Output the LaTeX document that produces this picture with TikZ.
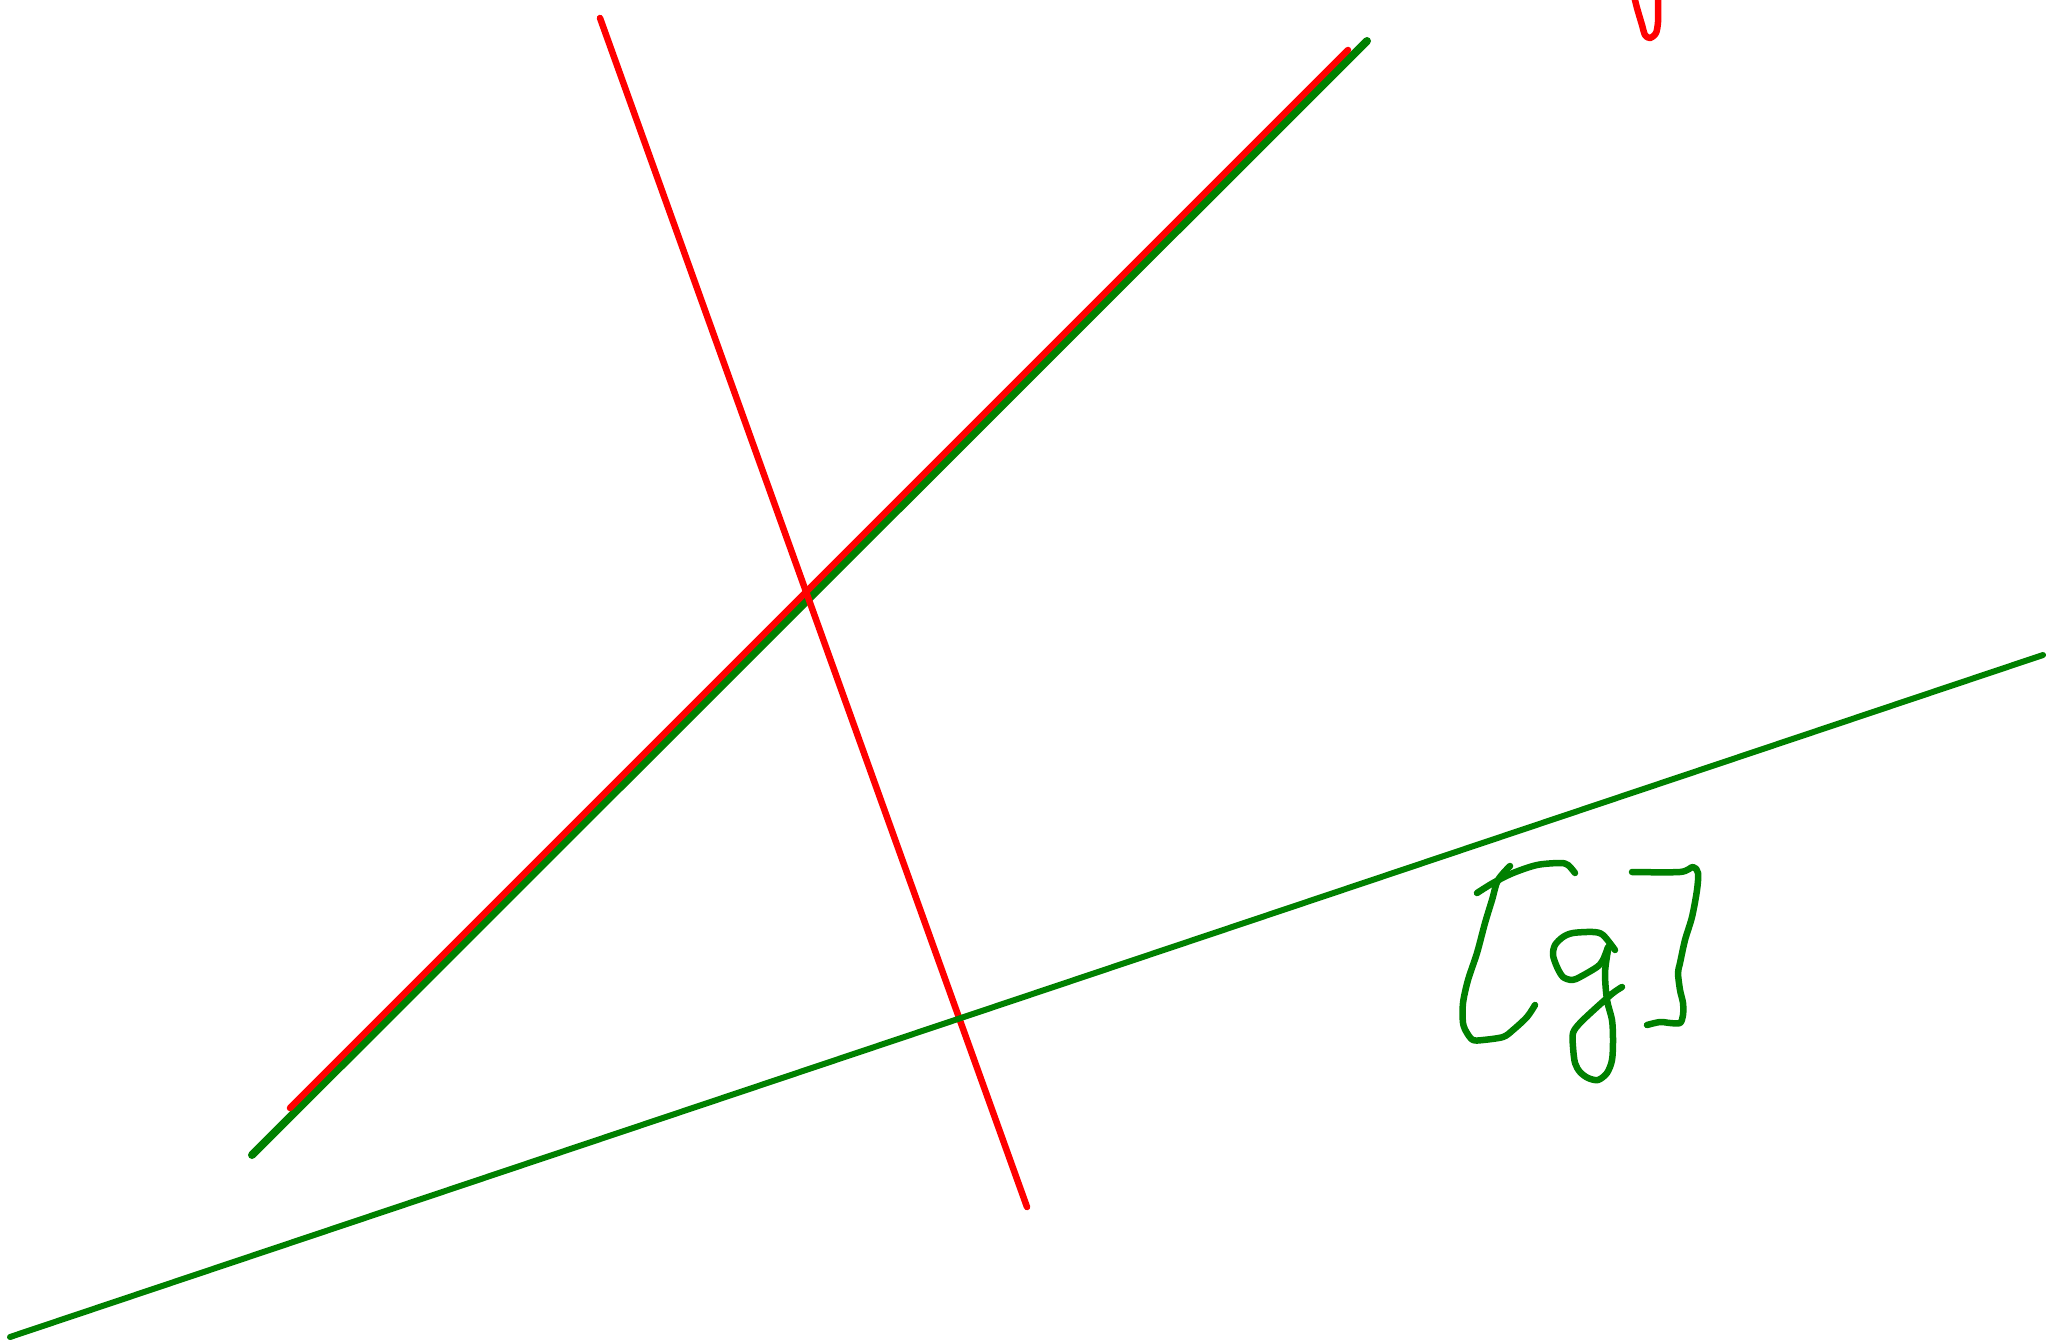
\documentclass[tikz,border=0pt]{standalone}
\definecolor{inkgreen}{RGB}{0,128,0}
\definecolor{inkred}{RGB}{255,0,0}
\tikzset{
  redstroke/.style={draw=inkred, line width=6.5pt, line cap=round, line join=round},
  greenstroke/.style={draw=inkgreen, line width=8pt, line cap=round, line join=round},
  greenthin/.style={draw=inkgreen, line width=6pt, line cap=round, line join=round},
  hand/.style={draw=inkgreen, line width=6.5pt, line cap=round, line join=round, smooth, tension=0.5},
}
\begin{document}
\begin{tikzpicture}[x=1pt,y=-1pt]
\fill[white] (0,0) rectangle (2051,1343);
\useasboundingbox (0,0) rectangle (2051,1343);
% long lines
\draw[greenstroke] (252,1155) -- (1367,41);
\draw[redstroke] (290,1108) -- (1348,50);
\draw[redstroke] (600,18) -- (1027,1207);
\draw[greenthin] (10,1337) -- (2043,655);
% red squiggle at top
\draw[redstroke] plot[smooth, tension=0.5] coordinates {(1634,-4) (1637,8) (1642,25) (1645,35) (1650,38) (1656,33) (1658,22) (1658,8) (1658,-4)};
% handwritten [g]
\draw[hand] plot coordinates {(1477,893) (1493,883) (1513,873) (1537,865) (1560,863) (1568,865) (1575,873)};
\draw[hand] plot coordinates {(1510,866) (1498,880) (1492,900) (1485,923) (1477,953) (1468,980) (1463,1003) (1463,1023) (1467,1033) (1473,1040) (1483,1040) (1503,1037) (1513,1030) (1527,1017) (1535,1005)};
\draw[hand] plot coordinates {(1615,950) (1603,935) (1593,932) (1573,933) (1563,937) (1555,945) (1553,955) (1557,967) (1563,977) (1572,980) (1580,977) (1597,967) (1603,960) (1608,947)};
\draw[hand] plot coordinates {(1608,950) (1605,973) (1607,1000) (1612,1020) (1613,1040) (1612,1060) (1607,1073) (1598,1080) (1588,1078) (1580,1072) (1575,1063) (1573,1047) (1573,1033) (1580,1023) (1597,1007) (1613,993) (1622,987)};
\draw[hand] plot coordinates {(1632,872) (1680,872) (1693,867) (1698,873) (1697,890) (1692,917) (1685,940) (1680,963) (1678,973) (1680,990) (1683,1003) (1683,1015) (1680,1023) (1670,1023) (1660,1022) (1647,1025)};
\end{tikzpicture}
\end{document}
